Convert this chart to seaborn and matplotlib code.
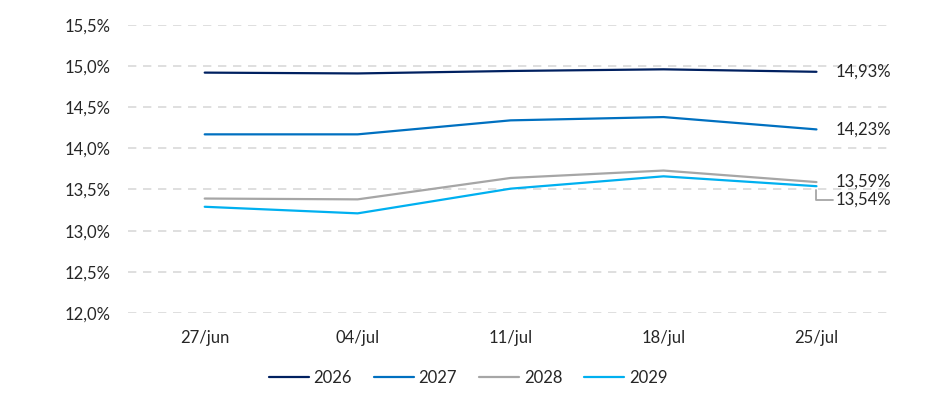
import matplotlib.pyplot as plt
import seaborn as sns
import pandas as pd

# Data (%)
dates = ['27/jun', '04/jul', '11/jul', '18/jul', '25/jul']
series_names = ['2026', '2027', '2028', '2029']
s2026 = [14.92, 14.91, 14.94, 14.96, 14.93]
s2027 = [14.17, 14.17, 14.34, 14.38, 14.23]
s2028 = [13.39, 13.38, 13.64, 13.73, 13.59]
s2029 = [13.29, 13.21, 13.51, 13.66, 13.54]
y_ticks = [12.0, 12.5, 13.0, 13.5, 14.0, 14.5, 15.0, 15.5]

colors = ['#002060', '#0070C0', '#A6A6A6', '#00B0F0']

rows = []
for name, vals in zip(series_names, [s2026, s2027, s2028, s2029]):
    for d, v in zip(dates, vals):
        rows.append({'date': d, 'serie': name, 'value': v})
df = pd.DataFrame(rows)

sns.set_style("white")
plt.rcParams['font.family'] = ['Lato', 'DejaVu Sans']
FS = 12

fig = plt.figure(figsize=(9.36, 4.08), dpi=100)
ax = fig.add_axes([0.137, 0.233, 0.817, 0.706])

sns.lineplot(data=df, x='date', y='value', hue='serie', palette=colors,
             linewidth=1.6, ax=ax, legend=False, sort=False)

ax.set_xlim(-0.5, len(dates) - 0.5)
ax.set_ylim(y_ticks[0], y_ticks[-1])
ax.set_yticks(y_ticks)
ax.set_yticklabels([f"{t:.1f}%".replace('.', ',') for t in y_ticks])
ax.set_xlabel('')
ax.set_ylabel('')
ax.yaxis.grid(True, linestyle=(0, (5, 4)), color='#D9D9D9', linewidth=1.2)
ax.xaxis.grid(False)
for sp in ax.spines.values():
    sp.set_visible(False)
ax.tick_params(axis='x', length=0, labelsize=FS, colors='#262626', pad=12)
ax.tick_params(axis='y', length=0, labelsize=FS, colors='#262626', pad=13)

# End labels
last = len(dates) - 1
for name, vals, col in zip(series_names, [s2026, s2027, s2028, s2029], colors):
    label = f"{vals[-1]:.2f}%".replace('.', ',')
    if name == '2029':
        ax.annotate(label, xy=(last, vals[-1]), xytext=(14, -10),
                    textcoords='offset points', va='center', ha='left',
                    fontsize=FS, color='#262626',
                    arrowprops=dict(arrowstyle='-', color='#A6A6A6', lw=1.3,
                                    shrinkA=0, shrinkB=3,
                                    connectionstyle='angle,angleA=0,angleB=90,rad=0'))
    else:
        ax.annotate(label, xy=(last, vals[-1]), xytext=(14, 0),
                    textcoords='offset points', va='center', ha='left',
                    fontsize=FS, color='#262626')

handles = [plt.Line2D([], [], color=c, lw=1.6) for c in colors]
fig.legend(handles, series_names, loc='center', bbox_to_anchor=(0.5, 0.073),
           ncol=4, frameon=False, fontsize=FS, handlelength=2.4,
           columnspacing=1.3, handletextpad=0.3)

plt.savefig('out.png', dpi=100)
